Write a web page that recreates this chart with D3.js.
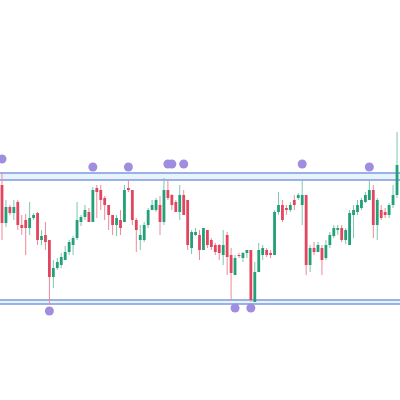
<!DOCTYPE html>
<html>
<head>
<meta charset="utf-8">
<script src="https://cdn.jsdelivr.net/npm/d3@7"></script>
<style>
  body { margin: 0; background: #fff; }
</style>
</head>
<body>
<svg id="chart"></svg>
<script>
// candle data (price points)
const opens  = [215,177,193,187,198,175,180,172,182,187,160,165,160,123,132,135,140,148,155,162,178,183,188,178,212,210,202,195,185,175,180,178,212,210,180,160,160,175,190,190,195,178,210,205,198,188,205,200,152,165,165,150,170,160,155,155,145,165,145,125,145,142,147,150,98,128,145,150,147,145,188,195,192,190,200,202,195,205,135,152,148,152,142,155,164,170,172,160,155,185,188,192,198,200,210,175,190,188,185,195,205];
const highs  = [227,200,195,200,200,185,186,198,187,188,170,178,160,140,142,147,154,160,164,198,185,195,192,213,215,215,204,195,185,185,190,215,220,210,182,175,178,192,200,202,204,222,220,206,200,215,210,200,170,172,170,172,170,162,157,156,170,168,152,145,147,148,150,150,138,157,155,152,150,190,208,200,195,198,205,207,220,205,155,158,158,155,160,168,175,175,175,172,190,195,200,202,208,220,215,202,195,192,197,215,268];
const lows   = [160,173,185,180,170,165,145,165,180,155,155,150,95,112,130,132,140,145,145,160,174,180,178,178,182,190,180,170,165,164,165,178,208,175,148,150,158,172,190,188,165,175,200,190,188,180,185,150,146,164,140,150,152,150,145,140,135,125,100,125,142,138,142,98,98,128,140,143,142,145,185,178,185,188,190,200,175,125,128,145,148,125,140,152,162,165,158,156,155,162,185,190,197,200,162,160,180,182,182,192,202];
const closes = [177,193,187,193,175,172,172,182,185,160,164,158,123,132,138,143,148,158,162,180,183,190,178,210,208,200,195,185,175,182,172,210,210,180,170,165,175,190,195,200,178,210,202,195,188,205,185,155,168,168,150,172,155,153,148,147,155,143,127,142,144,147,150,100,128,150,152,145,145,188,195,180,190,195,195,205,205,135,152,148,155,140,155,165,172,172,160,170,187,190,195,200,205,210,175,200,182,185,195,205,235];

// horizontal levels
const resistance = [227, 220];
const support = [100, 96];

// marked swing points: candle index and price
const topMarks = [[0, 241], [23, 233], [32, 233], [42, 236], [43, 236], [46, 236], [76, 236], [93, 233]];
const bottomMarks = [[12, 89], [59, 92], [63, 92]];

const W = 400, H = 400;
const svg = d3.select("#chart").attr("width", W).attr("height", H);

const x = d3.scaleLinear().domain([0, opens.length - 1]).range([2, 397]);
const y = d3.scaleLinear().domain([0, 400]).range([H, 0]);

const up = "#22a07a", down = "#e2455e";
const upWick = "#7cc7ae", downWick = "#ec8a9a";

// zone bands
[resistance, support].forEach(lv => {
  svg.append("rect")
    .attr("x", 0).attr("width", W)
    .attr("y", y(d3.max(lv))).attr("height", y(d3.min(lv)) - y(d3.max(lv)))
    .attr("fill", "#eaf2fb");
  lv.forEach(v => {
    svg.append("line")
      .attr("x1", 0).attr("x2", W)
      .attr("y1", y(v)).attr("y2", y(v))
      .attr("stroke", "#7a9be0").attr("stroke-width", 1.3);
  });
});

const candles = opens.map((o, i) => ({ i, o, h: highs[i], l: lows[i], c: closes[i] }));

svg.selectAll(".wick")
  .data(candles)
  .enter().append("line")
  .attr("x1", d => x(d.i)).attr("x2", d => x(d.i))
  .attr("y1", d => y(d.h)).attr("y2", d => y(d.l))
  .attr("stroke", d => d.c >= d.o ? upWick : downWick)
  .attr("stroke-width", 1);

svg.selectAll(".body")
  .data(candles)
  .enter().append("rect")
  .attr("x", d => x(d.i) - 1.4)
  .attr("width", 2.8)
  .attr("y", d => y(Math.max(d.o, d.c)))
  .attr("height", d => Math.max(1, Math.abs(y(d.o) - y(d.c))))
  .attr("fill", d => d.c >= d.o ? up : down);

svg.selectAll(".mark")
  .data(topMarks.concat(bottomMarks))
  .enter().append("circle")
  .attr("cx", d => x(d[0]))
  .attr("cy", d => y(d[1]))
  .attr("r", 4.5)
  .attr("fill", "#a08ddf");
</script>
</body>
</html>
